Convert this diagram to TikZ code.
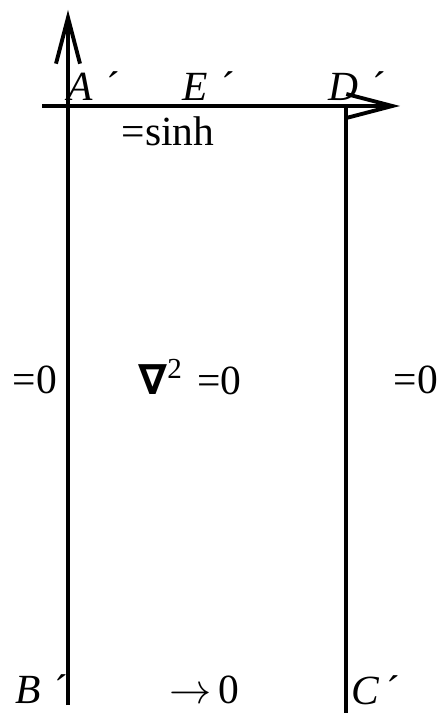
\documentclass[tikz,border=0pt]{standalone}
\usepackage{fontspec}
\setmainfont{Liberation Serif}
\newfontfamily\nablafont{DejaVu Sans}
\usepackage{tikz}
\usetikzlibrary{arrows.meta,positioning,calc}

\begin{document}
\begin{tikzpicture}[
    x=0.01cm, y=-0.01cm,
    axis/.style={line width=1.1pt, -{Straight Barb[length=4.6mm, width=2.4mm, line width=1.1pt]}},
    wall/.style={line width=1.1pt},
    lbl/.style={inner sep=0pt, font=\fontsize{11.8}{13}\selectfont}
]
    \useasboundingbox (0,0) rectangle (437,713);

    % Frame corners
    \coordinate (yfoot) at (68,705);
    \coordinate (ytip) at (68,10);
    \coordinate (xfoot) at (42,106);
    \coordinate (xtip) at (400,106);
    \coordinate (dtop) at (346,106);
    \coordinate (cbot) at (346,713);

    % Axes and right wall
    \draw[axis] (yfoot) -- (ytip);
    \draw[axis] (xfoot) -- (xtip);
    \draw[wall] (dtop) -- (cbot);

    % Corner labels
    \node[lbl] (ap) at (94,86) {\textit{A}\,\,´};
    \node[lbl] (ep) at (209,86) {\textit{E}\,\,´};
    \node[lbl] (dp) at (357,86) {\textit{D}\,\,´};
    \node[lbl] (bp) at (42,689) {\textit{B}\,\,´};
    \node[lbl] (cp) at (376,690) {\textit{C}\,´};

    % Boundary conditions
    \node[lbl] (top) at (168,131) {=sinh};
    \node[lbl] (left) at (35,380) {=0};
    \node[lbl] (right) at (416,380) {=0};
    \node[lbl] (bottom) at (204,690) {$\rightarrow$\,0};
    \node[lbl] (pde) at (190,377) {{\nablafont\bfseries ∇}\textsuperscript{2}\,\,=0};

\end{tikzpicture}
\end{document}
